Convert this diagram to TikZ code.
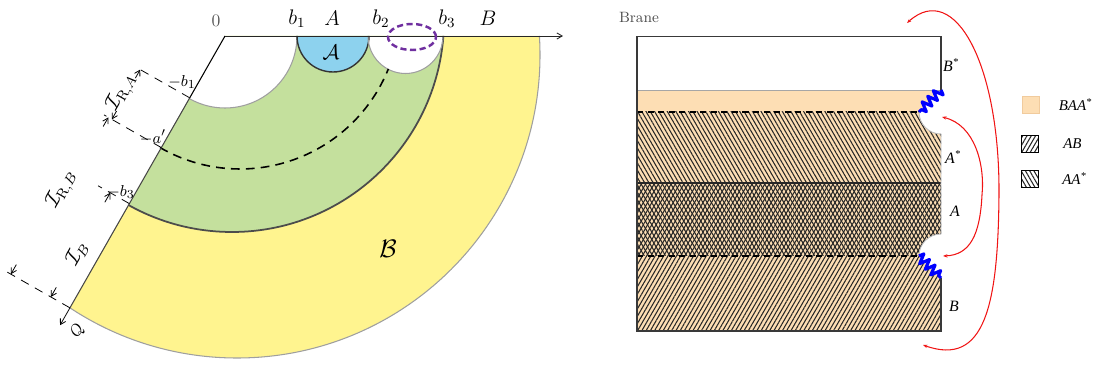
\documentclass[tikz,border=0pt]{standalone}
\usepackage{amsmath,amssymb}
\usepackage{fontspec}
\newfontfamily\pptserif{Liberation Serif}
\usetikzlibrary{arrows.meta, positioning, calc, patterns.meta, decorations.pathmorphing}

\definecolor{bulkyellow}{RGB}{255,244,143}
\definecolor{bulkgreen}{RGB}{196,224,157}
\definecolor{bulkblue}{RGB}{141,210,238}
\definecolor{peach}{RGB}{253,222,180}
\definecolor{loopred}{RGB}{240,20,20}
\definecolor{ovalpurple}{RGB}{112,48,160}

\begin{document}
\begin{tikzpicture}[x=0.02cm, y=0.02cm,
  >={Straight Barb[length=3pt,width=3.5pt]},
  every node/.style={inner sep=1pt},
  rim/.style={draw=gray!75, line width=0.6pt},
  axisline/.style={->, draw=gray!30!black, line width=0.5pt},
  ext/.style={dash pattern=on 5pt off 4pt, line width=0.45pt},
  dim/.style={->, line width=0.45pt},
  geo/.style={dash pattern=on 5pt off 3.5pt, line width=0.9pt},
  toplabel/.style={font=\fontsize{12}{14}\selectfont},
  sidelabel/.style={font=\fontsize{9.5}{11}\selectfont},
  bandlabel/.style={font=\pptserif\itshape\fontsize{9}{10}\selectfont},
  dimlabel/.style={font=\fontsize{11.5}{13}\selectfont, rotate=60.3, inner sep=0pt},
  hatchAB/.style={pattern={Lines[angle=60, distance=2.1pt, line width=0.6pt]}, pattern color=black!85},
  hatchAA/.style={pattern={Lines[angle=-60, distance=2.1pt, line width=0.6pt]}, pattern color=black!85},
  spring/.style={draw=blue, line width=1.8pt, line join=round, decorate,
    decoration={zigzag, segment length=4.5pt, amplitude=2.8pt}},
  loop/.style={draw=loopred, line width=0.6pt, arrows={Stealth[length=2.5pt]-Stealth[length=2.5pt]}},
  bandline/.style={line width=1.1pt, dash pattern=on 3.5pt off 2.5pt},
  legbox/.style={minimum size=0.34cm, inner sep=0pt, draw=black, line width=0.5pt},
  leglabel/.style={font=\pptserif\itshape\fontsize{8.5}{10}\selectfont, inner sep=0pt}
]
\useasboundingbox (0,0) rectangle (1093,365);

% left: the bulk wedge
\coordinate (O) at (225,329);
\coordinate (axisend) at (563,329);
\coordinate (P1) at ($(O)+(240.3:71.2)$);
\coordinate (Q) at ($(O)+(240.3:313)$);

\begin{scope}
  \clip (O) -- (600,329) -- (600,-10) -- ($(O)+(240.3:400)$) -- cycle;
  \fill[bulkyellow] (237,310) circle[radius=303];
  \fill[bulkgreen] (232,345) circle[radius=212];
  \fill[white] (O) circle[radius=72];
  \fill[bulkblue] (333,329) circle[radius=36];
  \fill[white] (405.5,329) circle[radius=37.5];
  \draw[rim] (237,310) circle[radius=303];
  \draw[rim, line width=1pt, draw=gray!60!black] (232,345) circle[radius=212];
  \draw[rim] (O) circle[radius=72];
  \draw[rim, draw=gray!40!black, line width=0.8pt] (333,329) circle[radius=36];
  \draw[rim] (405.5,329) circle[radius=37.5];
\end{scope}

\coordinate (ap) at ($(240,356)+(-120:160)$);
\draw[geo] (ap) arc[start angle=-120, end angle=-22, radius=160];

\draw[line width=0.6pt] (O) -- (P1);
\draw[gray!55!black, line width=0.6pt] (P1) -- (Q);
\draw[axisline] (O) -- (axisend);
\draw[ovalpurple, line width=1.4pt, dash pattern=on 3.5pt off 2pt] (412,328) ellipse[x radius=24, y radius=13];

\node[font=\fontsize{10}{12}\selectfont, text=gray!70!black] (zero) at (216,344) {0};
\node[toplabel] (b1) at (297,346) {$b_1$};
\node[toplabel] (lA) at (332,347) {$A$};
\node[toplabel] (b2) at (381,346) {$b_2$};
\node[toplabel] (b3) at (447,346) {$b_3$};
\node[toplabel] (lB) at (488,347) {$B$};
\node[font=\fontsize{12}{14}\selectfont] (calA) at (331,313) {$\mathcal{A}$};
\node[font=\fontsize{15}{18}\selectfont] (calB) at (388,116) {$\mathcal{B}$};

\node[sidelabel] (mb1) at (182,283) {$-b_1$};
\node[sidelabel] (map) at (153,228) {$-a'$};
\node[sidelabel] (mb3) at (121,173) {$-b_3$};

% intervals along the left edge
\begin{scope}[shift={(O)}, rotate=240.3]
  \coordinate (e1) at (71.2,0);  \coordinate (e1o) at (71.2,-62);
  \coordinate (e2) at (128.5,0); \coordinate (e2o) at (128.5,-66);
  \coordinate (e3) at (193,0);   \coordinate (e3o) at (193,-36);
  \coordinate (e4) at (313,0);   \coordinate (e4o) at (313,-74);
  \draw[ext] (e1) -- (e1o);
  \draw[ext] (e2) -- (e2o);
  \draw[ext] (e3) -- (e3o);
  \draw[ext] (e4) -- (e4o);

  \coordinate (ra1) at (81,-57);   \coordinate (ra1t) at (71.2,-57);
  \coordinate (ra2) at (119,-57);  \coordinate (ra2t) at (128.5,-57);
  \coordinate (rb1) at (139,-61);  \coordinate (rb1t) at (128.5,-61);
  \coordinate (rb2) at (302,-68);  \coordinate (rb2t) at (313,-68);
  \coordinate (ib1) at (204,-22);  \coordinate (ib1t) at (193,-22);
  \coordinate (ib2) at (302,-22);  \coordinate (ib2t) at (313,-22);
  \coordinate (qt) at (333,0);
  \draw[dim] (ra1) -- (ra1t);
  \draw[dim] (ra2) -- (ra2t);
  \draw[dim] (rb1) -- (rb1t);
  \draw[dim] (rb2) -- (rb2t);
  \draw[dim] (ib1) -- (ib1t);
  \draw[dim] (ib2) -- (ib2t);
  \draw[dim] (e4) -- (qt);

  \node[dimlabel] (IRA) at (100,-62) {$\mathcal{I}_{\mathrm{R},A}$};
  \node[dimlabel] (IRB) at (214,-66) {$\mathcal{I}_{\mathrm{R},B}$};
  \node[dimlabel] (IB) at (262,-21) {$\mathcal{I}_{B}$};
  \node[sidelabel, rotate=60.3] (lQ) at (329,18) {$Q$};
\end{scope}

% right: the brane picture
\node[font=\fontsize{8.5}{10}\selectfont, text=gray!60!black] (brane) at (639,347.5) {Brane};

\begin{scope}
  \clip (637,34) -- (637,328.3) -- (941,328.3) -- (941,275) -- (919,253)
    arc[start angle=180, end angle=270, radius=22] -- (941,131)
    arc[start angle=90, end angle=180, radius=22] -- (941,87) -- (941,34) -- cycle;
  \fill[peach] (637,34) rectangle (941,275);
  \path[hatchAA] (637,109) rectangle (941,253);
  \path[hatchAB] (637,34) rectangle (941,182);
\end{scope}

\draw[gray!70, line width=0.5pt] (637,275) -- (941,275);
\draw[bandline] (637,253) -- (919,253);
\draw[gray!30!black, line width=0.7pt] (637,182) -- (941,182);
\draw[bandline] (637,109) -- (919,109);
\draw[gray!45!black, line width=0.6pt] (941,275) -- (941,328.3) -- (637,328.3) -- (637,34) -- (941,34) -- (941,87);
\draw[gray!50, line width=0.5pt] (919,253) arc[start angle=180, end angle=270, radius=22] -- (941,131)
  arc[start angle=90, end angle=180, radius=22];

\coordinate (z1a) at (941,275); \coordinate (z1b) at (919,253);
\coordinate (z2a) at (919,109); \coordinate (z2b) at (941,87);
\draw[spring] (z1a) -- (z1b);
\draw[spring] (z2a) -- (z2b);

\node[bandlabel] (lBs) at (951,300) {B\textsuperscript{*}};
\node[bandlabel] (lAs) at (953,208) {A\textsuperscript{*}};
\node[bandlabel] (lA2) at (955,154) {A};
\node[bandlabel] (lB2) at (954,59) {B};

% red loops
\coordinate (r1s) at (907,342); \coordinate (r1e) at (923,20);
\coordinate (r2s) at (942,248); \coordinate (r2e) at (943,109);
\draw[loop] (r1s) .. controls (955,385) and (1000,300) .. (999,170)
  .. controls (998,60) and (985,-2) .. (r1e);
\draw[loop] (r2s) .. controls (975,240) and (985,200) .. (982,170)
  .. controls (980,130) and (970,110) .. (r2e);

% legend
\node[legbox, fill=peach, draw=peach!80!brown] (key1) at (1030.5,260.5) {};
\node[legbox, hatchAB] (key2) at (1030,221) {};
\node[legbox, hatchAA] (key3) at (1030,186) {};
\node[leglabel, right=0.38cm of key1] (key1t) {BAA\textsuperscript{*}};
\node[leglabel, right=0.48cm of key2] (key2t) {AB};
\node[leglabel, right=0.46cm of key3] (key3t) {AA\textsuperscript{*}};
\end{tikzpicture}
\end{document}
